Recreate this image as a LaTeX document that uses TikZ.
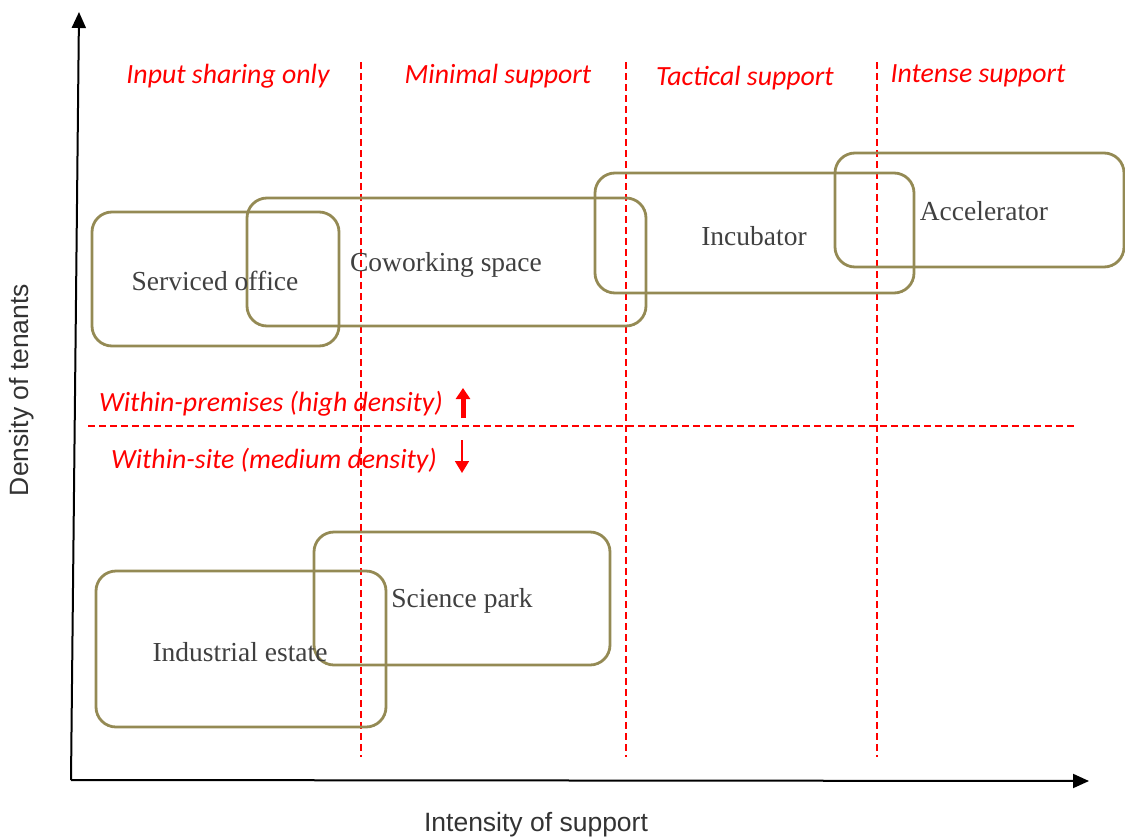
\documentclass[tikz,border=0pt]{standalone}
\usepackage{fontspec}
\setmainfont{Liberation Serif}
\newfontfamily\calib{Carlito}
\newfontfamily\arialf{Liberation Sans}
\usetikzlibrary{arrows.meta}
\definecolor{olive}{HTML}{948A54}
\definecolor{txtgray}{HTML}{404040}
\definecolor{redc}{HTML}{FF0000}
\begin{document}
\begin{tikzpicture}[x=1pt,y=-1pt,
  box/.style={draw=olive,line width=2.8pt,rounded corners=20pt,minimum width=#1},
  boxlabel/.style={text=txtgray,font=\fontsize{27.5}{31}\selectfont,inner sep=0pt},
  zone/.style={text=redc,font=\calib\itshape\fontsize{27.8}{32}\selectfont,inner sep=0pt},
  divider/.style={draw=redc,line width=1.5pt,dash pattern=on 7pt off 4pt},
  axis/.style={draw=black,line width=2pt,-{Triangle[length=16pt,width=14pt]}},
  axlabel/.style={font=\arialf\fontsize{26.5}{31}\selectfont,text=txtgray!80!black,inner sep=0pt}
]
\useasboundingbox (0,0) rectangle (1125,836);

% axes
\coordinate (origin) at (71,780);
\coordinate (ytop) at (79,12);
\coordinate (xend) at (1089,781);
\draw[axis] (origin) -- (ytop);
\draw[axis] (origin) -- (xend);
\node[axlabel,rotate=90] (ylab) at (22,390) {Density of tenants};
\node[axlabel] (xlab) at (536,825) {Intensity of support};

% vertical dividers
\foreach \n/\x in {a/361,b/626,c/877}{
  \coordinate (v\n t) at (\x,62);
  \coordinate (v\n b) at (\x,757);
  \draw[divider] (v\n t) -- (v\n b);
}
% horizontal divider
\coordinate (hl) at (88,426);
\coordinate (hr) at (1076,426);
\draw[divider] (hl) -- (hr);

% zone labels
\node[zone] (z1) at (228,76) {Input sharing only};
\node[zone] (z2) at (498,76) {Minimal support};
\node[zone] (z3) at (745,78) {Tactical support};
\node[zone] (z4) at (978,76) {Intense support};
\node[zone] (d1) at (271,404) {Within-premises (high density)};
\node[zone] (d2) at (274,461) {Within-site (medium density)};

% density arrows
\coordinate (upb) at (463,418);
\coordinate (upt) at (463,388);
\draw[redc,line width=5pt,-{Triangle[length=11pt,width=14pt]}] (upb) -- (upt);
\coordinate (dnt) at (462,440);
\coordinate (dnb) at (462,473);
\draw[redc,line width=1.8pt,-{Triangle[length=12pt,width=14pt]}] (dnt) -- (dnb);

% boxes
\node[box=247pt,minimum height=134pt] (so) at (215.5,279) {};
\node[box=399pt,minimum height=128pt] (cw) at (446.5,262) {};
\node[box=319pt,minimum height=120pt] (inc) at (754.5,233) {};
\node[box=289pt,minimum height=114pt] (acc) at (979.5,210) {};
\node[box=296pt,minimum height=133pt] (sp) at (462,598.5) {};
\node[box=290pt,minimum height=156pt] (ie) at (241,649) {};

% box labels
\node[boxlabel] (lso) at (215,281) {Serviced office};
\node[boxlabel] (lcw) at (446,265) {Coworking space};
\node[boxlabel] (linc) at (754,236) {Incubator};
\node[boxlabel] (lacc) at (984,211) {Accelerator};
\node[boxlabel] (lsp) at (462,601) {Science park};
\node[boxlabel] (lie) at (240,652) {Industrial estate};
\end{tikzpicture}
\end{document}
